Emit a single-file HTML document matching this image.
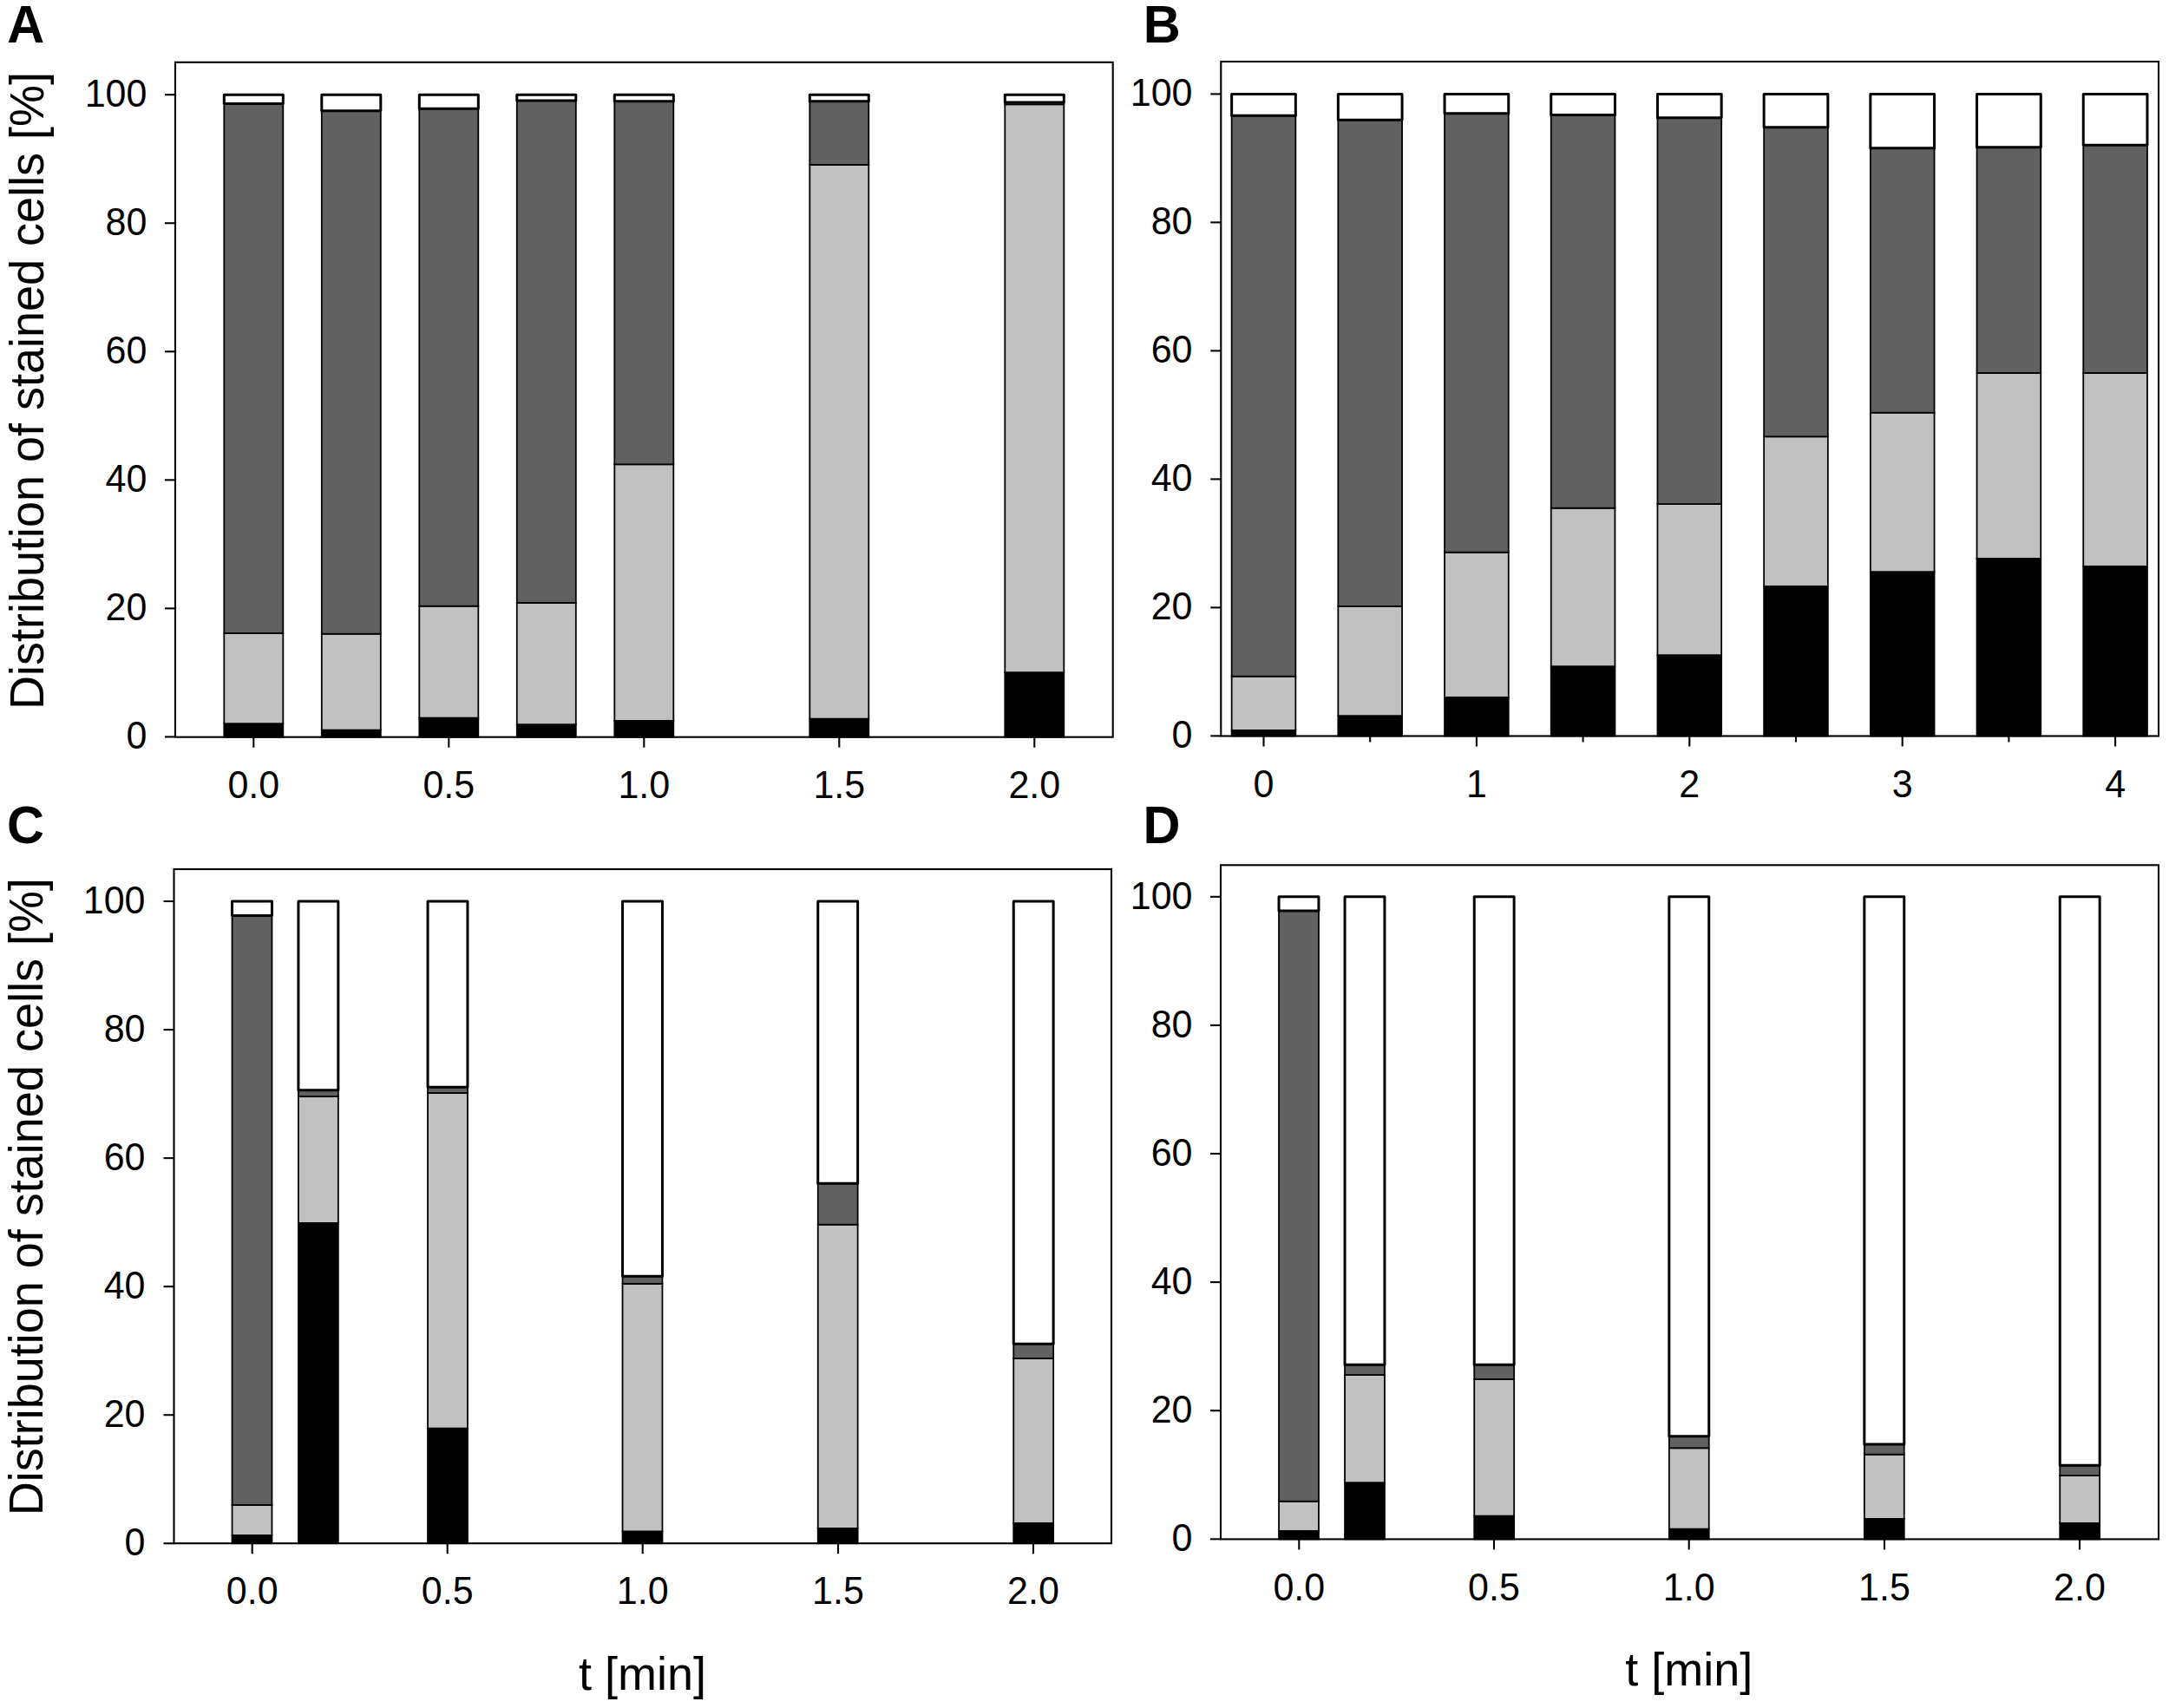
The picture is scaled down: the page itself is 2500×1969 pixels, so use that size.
<!DOCTYPE html>
<html><head><meta charset="utf-8"><title>Figure</title>
<style>
html,body{margin:0;padding:0;background:#fff;}
svg{display:block}
text{font-family:"Liberation Sans",Arial,sans-serif;fill:#000}
.tk{font-size:43px}
.al{font-size:54px}
.pl{font-size:59.5px;font-weight:bold}
</style></head><body>
<svg width="2500" height="1969" viewBox="0 0 2500 1969">
<rect width="2500" height="1969" fill="#fff"/>
<rect x="258.30" y="834.20" width="68.00" height="15.50" fill="#000" stroke="#000" stroke-width="1.8"/>
<rect x="258.30" y="730.00" width="68.00" height="104.20" fill="#c1c1c1" stroke="#000" stroke-width="1.8"/>
<rect x="258.30" y="119.40" width="68.00" height="610.60" fill="#616161" stroke="#000" stroke-width="1.8"/>
<rect x="258.30" y="109.30" width="68.00" height="10.10" fill="#fff" stroke="#000" stroke-width="3.0" stroke-linejoin="round"/>
<rect x="370.80" y="841.60" width="68.00" height="8.10" fill="#000" stroke="#000" stroke-width="1.8"/>
<rect x="370.80" y="730.70" width="68.00" height="110.90" fill="#c1c1c1" stroke="#000" stroke-width="1.8"/>
<rect x="370.80" y="127.70" width="68.00" height="603.00" fill="#616161" stroke="#000" stroke-width="1.8"/>
<rect x="370.80" y="109.30" width="68.00" height="18.40" fill="#fff" stroke="#000" stroke-width="3.0" stroke-linejoin="round"/>
<rect x="483.30" y="827.60" width="68.00" height="22.10" fill="#000" stroke="#000" stroke-width="1.8"/>
<rect x="483.30" y="698.70" width="68.00" height="128.90" fill="#c1c1c1" stroke="#000" stroke-width="1.8"/>
<rect x="483.30" y="125.30" width="68.00" height="573.40" fill="#616161" stroke="#000" stroke-width="1.8"/>
<rect x="483.30" y="109.30" width="68.00" height="16.00" fill="#fff" stroke="#000" stroke-width="3.0" stroke-linejoin="round"/>
<rect x="595.80" y="835.20" width="68.00" height="14.50" fill="#000" stroke="#000" stroke-width="1.8"/>
<rect x="595.80" y="695.00" width="68.00" height="140.20" fill="#c1c1c1" stroke="#000" stroke-width="1.8"/>
<rect x="595.80" y="116.00" width="68.00" height="579.00" fill="#616161" stroke="#000" stroke-width="1.8"/>
<rect x="595.80" y="109.30" width="68.00" height="6.70" fill="#fff" stroke="#000" stroke-width="3.0" stroke-linejoin="round"/>
<rect x="708.30" y="830.90" width="68.00" height="18.80" fill="#000" stroke="#000" stroke-width="1.8"/>
<rect x="708.30" y="535.30" width="68.00" height="295.60" fill="#c1c1c1" stroke="#000" stroke-width="1.8"/>
<rect x="708.30" y="116.70" width="68.00" height="418.60" fill="#616161" stroke="#000" stroke-width="1.8"/>
<rect x="708.30" y="109.30" width="68.00" height="7.40" fill="#fff" stroke="#000" stroke-width="3.0" stroke-linejoin="round"/>
<rect x="933.30" y="828.60" width="68.00" height="21.10" fill="#000" stroke="#000" stroke-width="1.8"/>
<rect x="933.30" y="190.00" width="68.00" height="638.60" fill="#c1c1c1" stroke="#000" stroke-width="1.8"/>
<rect x="933.30" y="116.70" width="68.00" height="73.30" fill="#616161" stroke="#000" stroke-width="1.8"/>
<rect x="933.30" y="109.30" width="68.00" height="7.40" fill="#fff" stroke="#000" stroke-width="3.0" stroke-linejoin="round"/>
<rect x="1158.30" y="775.20" width="68.00" height="74.50" fill="#000" stroke="#000" stroke-width="1.8"/>
<rect x="1158.30" y="120.30" width="68.00" height="654.90" fill="#c1c1c1" stroke="#000" stroke-width="1.8"/>
<rect x="1158.30" y="118.00" width="68.00" height="2.30" fill="#616161" stroke="#000" stroke-width="1.8"/>
<rect x="1158.30" y="109.30" width="68.00" height="8.70" fill="#fff" stroke="#000" stroke-width="3.0" stroke-linejoin="round"/>
<rect x="202" y="71.8" width="1080.7" height="777.9000000000001" fill="none" stroke="#000" stroke-width="2.1"/>
<line x1="190" y1="109.2" x2="202" y2="109.2" stroke="#000" stroke-width="2.1"/>
<text transform="translate(169.4,123.0) scale(1,1.04)" text-anchor="end" class="tk">100</text>
<line x1="190" y1="257.25" x2="202" y2="257.25" stroke="#000" stroke-width="2.1"/>
<text transform="translate(169.4,271.1) scale(1,1.04)" text-anchor="end" class="tk">80</text>
<line x1="190" y1="405.3" x2="202" y2="405.3" stroke="#000" stroke-width="2.1"/>
<text transform="translate(169.4,419.1) scale(1,1.04)" text-anchor="end" class="tk">60</text>
<line x1="190" y1="553.35" x2="202" y2="553.35" stroke="#000" stroke-width="2.1"/>
<text transform="translate(169.4,567.1) scale(1,1.04)" text-anchor="end" class="tk">40</text>
<line x1="190" y1="701.4000000000001" x2="202" y2="701.4000000000001" stroke="#000" stroke-width="2.1"/>
<text transform="translate(169.4,715.2) scale(1,1.04)" text-anchor="end" class="tk">20</text>
<line x1="190" y1="849.45" x2="202" y2="849.45" stroke="#000" stroke-width="2.1"/>
<text transform="translate(169.4,863.2) scale(1,1.04)" text-anchor="end" class="tk">0</text>
<line x1="292.3" y1="849.7" x2="292.3" y2="861.7" stroke="#000" stroke-width="2.1"/>
<line x1="517.3" y1="849.7" x2="517.3" y2="861.7" stroke="#000" stroke-width="2.1"/>
<line x1="742.3" y1="849.7" x2="742.3" y2="861.7" stroke="#000" stroke-width="2.1"/>
<line x1="967.3" y1="849.7" x2="967.3" y2="861.7" stroke="#000" stroke-width="2.1"/>
<line x1="1192.3" y1="849.7" x2="1192.3" y2="861.7" stroke="#000" stroke-width="2.1"/>
<text transform="translate(292.3,920) scale(1,1.04)" text-anchor="middle" class="tk">0.0</text>
<text transform="translate(517.3,920) scale(1,1.04)" text-anchor="middle" class="tk">0.5</text>
<text transform="translate(742.3,920) scale(1,1.04)" text-anchor="middle" class="tk">1.0</text>
<text transform="translate(967.3,920) scale(1,1.04)" text-anchor="middle" class="tk">1.5</text>
<text transform="translate(1192.3,920) scale(1,1.04)" text-anchor="middle" class="tk">2.0</text>
<rect x="1419.65" y="841.90" width="73.70" height="6.60" fill="#000" stroke="#000" stroke-width="1.8"/>
<rect x="1419.65" y="779.70" width="73.70" height="62.20" fill="#c1c1c1" stroke="#000" stroke-width="1.8"/>
<rect x="1419.65" y="133.30" width="73.70" height="646.40" fill="#616161" stroke="#000" stroke-width="1.8"/>
<rect x="1419.65" y="108.40" width="73.70" height="24.90" fill="#fff" stroke="#000" stroke-width="3.0" stroke-linejoin="round"/>
<rect x="1542.35" y="825.20" width="73.70" height="23.30" fill="#000" stroke="#000" stroke-width="1.8"/>
<rect x="1542.35" y="699.00" width="73.70" height="126.20" fill="#c1c1c1" stroke="#000" stroke-width="1.8"/>
<rect x="1542.35" y="138.30" width="73.70" height="560.70" fill="#616161" stroke="#000" stroke-width="1.8"/>
<rect x="1542.35" y="108.40" width="73.70" height="29.90" fill="#fff" stroke="#000" stroke-width="3.0" stroke-linejoin="round"/>
<rect x="1665.05" y="803.90" width="73.70" height="44.60" fill="#000" stroke="#000" stroke-width="1.8"/>
<rect x="1665.05" y="636.70" width="73.70" height="167.20" fill="#c1c1c1" stroke="#000" stroke-width="1.8"/>
<rect x="1665.05" y="130.70" width="73.70" height="506.00" fill="#616161" stroke="#000" stroke-width="1.8"/>
<rect x="1665.05" y="108.40" width="73.70" height="22.30" fill="#fff" stroke="#000" stroke-width="3.0" stroke-linejoin="round"/>
<rect x="1787.75" y="768.20" width="73.70" height="80.30" fill="#000" stroke="#000" stroke-width="1.8"/>
<rect x="1787.75" y="585.70" width="73.70" height="182.50" fill="#c1c1c1" stroke="#000" stroke-width="1.8"/>
<rect x="1787.75" y="132.50" width="73.70" height="453.20" fill="#616161" stroke="#000" stroke-width="1.8"/>
<rect x="1787.75" y="108.40" width="73.70" height="24.10" fill="#fff" stroke="#000" stroke-width="3.0" stroke-linejoin="round"/>
<rect x="1910.45" y="755.20" width="73.70" height="93.30" fill="#000" stroke="#000" stroke-width="1.8"/>
<rect x="1910.45" y="581.00" width="73.70" height="174.20" fill="#c1c1c1" stroke="#000" stroke-width="1.8"/>
<rect x="1910.45" y="135.70" width="73.70" height="445.30" fill="#616161" stroke="#000" stroke-width="1.8"/>
<rect x="1910.45" y="108.40" width="73.70" height="27.30" fill="#fff" stroke="#000" stroke-width="3.0" stroke-linejoin="round"/>
<rect x="2033.15" y="675.90" width="73.70" height="172.60" fill="#000" stroke="#000" stroke-width="1.8"/>
<rect x="2033.15" y="503.30" width="73.70" height="172.60" fill="#c1c1c1" stroke="#000" stroke-width="1.8"/>
<rect x="2033.15" y="146.70" width="73.70" height="356.60" fill="#616161" stroke="#000" stroke-width="1.8"/>
<rect x="2033.15" y="108.40" width="73.70" height="38.30" fill="#fff" stroke="#000" stroke-width="3.0" stroke-linejoin="round"/>
<rect x="2155.85" y="659.20" width="73.70" height="189.30" fill="#000" stroke="#000" stroke-width="1.8"/>
<rect x="2155.85" y="475.70" width="73.70" height="183.50" fill="#c1c1c1" stroke="#000" stroke-width="1.8"/>
<rect x="2155.85" y="170.70" width="73.70" height="305.00" fill="#616161" stroke="#000" stroke-width="1.8"/>
<rect x="2155.85" y="108.40" width="73.70" height="62.30" fill="#fff" stroke="#000" stroke-width="3.0" stroke-linejoin="round"/>
<rect x="2278.55" y="643.90" width="73.70" height="204.60" fill="#000" stroke="#000" stroke-width="1.8"/>
<rect x="2278.55" y="430.00" width="73.70" height="213.90" fill="#c1c1c1" stroke="#000" stroke-width="1.8"/>
<rect x="2278.55" y="169.70" width="73.70" height="260.30" fill="#616161" stroke="#000" stroke-width="1.8"/>
<rect x="2278.55" y="108.40" width="73.70" height="61.30" fill="#fff" stroke="#000" stroke-width="3.0" stroke-linejoin="round"/>
<rect x="2401.25" y="652.90" width="73.70" height="195.60" fill="#000" stroke="#000" stroke-width="1.8"/>
<rect x="2401.25" y="430.00" width="73.70" height="222.90" fill="#c1c1c1" stroke="#000" stroke-width="1.8"/>
<rect x="2401.25" y="167.30" width="73.70" height="262.70" fill="#616161" stroke="#000" stroke-width="1.8"/>
<rect x="2401.25" y="108.40" width="73.70" height="58.90" fill="#fff" stroke="#000" stroke-width="3.0" stroke-linejoin="round"/>
<rect x="1407.3" y="71" width="1080.7" height="777.5" fill="none" stroke="#000" stroke-width="2.1"/>
<line x1="1395.3" y1="108.4" x2="1407.3" y2="108.4" stroke="#000" stroke-width="2.1"/>
<text transform="translate(1374.5,122.2) scale(1,1.04)" text-anchor="end" class="tk">100</text>
<line x1="1395.3" y1="256.4" x2="1407.3" y2="256.4" stroke="#000" stroke-width="2.1"/>
<text transform="translate(1374.5,270.2) scale(1,1.04)" text-anchor="end" class="tk">80</text>
<line x1="1395.3" y1="404.4" x2="1407.3" y2="404.4" stroke="#000" stroke-width="2.1"/>
<text transform="translate(1374.5,418.2) scale(1,1.04)" text-anchor="end" class="tk">60</text>
<line x1="1395.3" y1="552.4" x2="1407.3" y2="552.4" stroke="#000" stroke-width="2.1"/>
<text transform="translate(1374.5,566.2) scale(1,1.04)" text-anchor="end" class="tk">40</text>
<line x1="1395.3" y1="700.4" x2="1407.3" y2="700.4" stroke="#000" stroke-width="2.1"/>
<text transform="translate(1374.5,714.2) scale(1,1.04)" text-anchor="end" class="tk">20</text>
<line x1="1395.3" y1="848.4" x2="1407.3" y2="848.4" stroke="#000" stroke-width="2.1"/>
<text transform="translate(1374.5,862.2) scale(1,1.04)" text-anchor="end" class="tk">0</text>
<line x1="1456.5" y1="848.5" x2="1456.5" y2="860.5" stroke="#000" stroke-width="2.1"/>
<line x1="1701.9" y1="848.5" x2="1701.9" y2="860.5" stroke="#000" stroke-width="2.1"/>
<line x1="1947.3" y1="848.5" x2="1947.3" y2="860.5" stroke="#000" stroke-width="2.1"/>
<line x1="2192.7" y1="848.5" x2="2192.7" y2="860.5" stroke="#000" stroke-width="2.1"/>
<line x1="2438.1" y1="848.5" x2="2438.1" y2="860.5" stroke="#000" stroke-width="2.1"/>
<line x1="1579.2" y1="848.5" x2="1579.2" y2="855.5" stroke="#000" stroke-width="2.1"/>
<line x1="1824.6" y1="848.5" x2="1824.6" y2="855.5" stroke="#000" stroke-width="2.1"/>
<line x1="2070.0" y1="848.5" x2="2070.0" y2="855.5" stroke="#000" stroke-width="2.1"/>
<line x1="2315.4" y1="848.5" x2="2315.4" y2="855.5" stroke="#000" stroke-width="2.1"/>
<text transform="translate(1456.5,919) scale(1,1.04)" text-anchor="middle" class="tk">0</text>
<text transform="translate(1701.9,919) scale(1,1.04)" text-anchor="middle" class="tk">1</text>
<text transform="translate(1947.3,919) scale(1,1.04)" text-anchor="middle" class="tk">2</text>
<text transform="translate(2192.7,919) scale(1,1.04)" text-anchor="middle" class="tk">3</text>
<text transform="translate(2438.1,919) scale(1,1.04)" text-anchor="middle" class="tk">4</text>
<rect x="267.55" y="1769.90" width="45.90" height="9.30" fill="#000" stroke="#000" stroke-width="1.8"/>
<rect x="267.55" y="1735.00" width="45.90" height="34.90" fill="#c1c1c1" stroke="#000" stroke-width="1.8"/>
<rect x="267.55" y="1055.50" width="45.90" height="679.50" fill="#616161" stroke="#000" stroke-width="1.8"/>
<rect x="267.55" y="1039.00" width="45.90" height="16.50" fill="#fff" stroke="#000" stroke-width="3.0" stroke-linejoin="round"/>
<rect x="343.95" y="1409.90" width="45.90" height="369.30" fill="#000" stroke="#000" stroke-width="1.8"/>
<rect x="343.95" y="1264.00" width="45.90" height="145.90" fill="#c1c1c1" stroke="#000" stroke-width="1.8"/>
<rect x="343.95" y="1256.70" width="45.90" height="7.30" fill="#616161" stroke="#000" stroke-width="1.8"/>
<rect x="343.95" y="1039.00" width="45.90" height="217.70" fill="#fff" stroke="#000" stroke-width="3.0" stroke-linejoin="round"/>
<rect x="493.05" y="1646.60" width="45.90" height="132.60" fill="#000" stroke="#000" stroke-width="1.8"/>
<rect x="493.05" y="1260.00" width="45.90" height="386.60" fill="#c1c1c1" stroke="#000" stroke-width="1.8"/>
<rect x="493.05" y="1253.30" width="45.90" height="6.70" fill="#616161" stroke="#000" stroke-width="1.8"/>
<rect x="493.05" y="1039.00" width="45.90" height="214.30" fill="#fff" stroke="#000" stroke-width="3.0" stroke-linejoin="round"/>
<rect x="717.55" y="1765.40" width="45.90" height="13.80" fill="#000" stroke="#000" stroke-width="1.8"/>
<rect x="717.55" y="1480.00" width="45.90" height="285.40" fill="#c1c1c1" stroke="#000" stroke-width="1.8"/>
<rect x="717.55" y="1471.30" width="45.90" height="8.70" fill="#616161" stroke="#000" stroke-width="1.8"/>
<rect x="717.55" y="1039.00" width="45.90" height="432.30" fill="#fff" stroke="#000" stroke-width="3.0" stroke-linejoin="round"/>
<rect x="942.75" y="1761.90" width="45.90" height="17.30" fill="#000" stroke="#000" stroke-width="1.8"/>
<rect x="942.75" y="1411.70" width="45.90" height="350.20" fill="#c1c1c1" stroke="#000" stroke-width="1.8"/>
<rect x="942.75" y="1364.30" width="45.90" height="47.40" fill="#616161" stroke="#000" stroke-width="1.8"/>
<rect x="942.75" y="1039.00" width="45.90" height="325.30" fill="#fff" stroke="#000" stroke-width="3.0" stroke-linejoin="round"/>
<rect x="1168.25" y="1755.90" width="45.90" height="23.30" fill="#000" stroke="#000" stroke-width="1.8"/>
<rect x="1168.25" y="1566.00" width="45.90" height="189.90" fill="#c1c1c1" stroke="#000" stroke-width="1.8"/>
<rect x="1168.25" y="1549.30" width="45.90" height="16.70" fill="#616161" stroke="#000" stroke-width="1.8"/>
<rect x="1168.25" y="1039.00" width="45.90" height="510.30" fill="#fff" stroke="#000" stroke-width="3.0" stroke-linejoin="round"/>
<rect x="200.5" y="1002" width="1080.5" height="777.2" fill="none" stroke="#000" stroke-width="2.1"/>
<line x1="188.5" y1="1039.0" x2="200.5" y2="1039.0" stroke="#000" stroke-width="2.1"/>
<text transform="translate(167.5,1052.8) scale(1,1.04)" text-anchor="end" class="tk">100</text>
<line x1="188.5" y1="1187.05" x2="200.5" y2="1187.05" stroke="#000" stroke-width="2.1"/>
<text transform="translate(167.5,1200.8) scale(1,1.04)" text-anchor="end" class="tk">80</text>
<line x1="188.5" y1="1335.1" x2="200.5" y2="1335.1" stroke="#000" stroke-width="2.1"/>
<text transform="translate(167.5,1348.9) scale(1,1.04)" text-anchor="end" class="tk">60</text>
<line x1="188.5" y1="1483.15" x2="200.5" y2="1483.15" stroke="#000" stroke-width="2.1"/>
<text transform="translate(167.5,1497.0) scale(1,1.04)" text-anchor="end" class="tk">40</text>
<line x1="188.5" y1="1631.2" x2="200.5" y2="1631.2" stroke="#000" stroke-width="2.1"/>
<text transform="translate(167.5,1645.0) scale(1,1.04)" text-anchor="end" class="tk">20</text>
<line x1="188.5" y1="1779.25" x2="200.5" y2="1779.25" stroke="#000" stroke-width="2.1"/>
<text transform="translate(167.5,1793.0) scale(1,1.04)" text-anchor="end" class="tk">0</text>
<line x1="290.7" y1="1779.2" x2="290.7" y2="1791.2" stroke="#000" stroke-width="2.1"/>
<line x1="515.7" y1="1779.2" x2="515.7" y2="1791.2" stroke="#000" stroke-width="2.1"/>
<line x1="740.7" y1="1779.2" x2="740.7" y2="1791.2" stroke="#000" stroke-width="2.1"/>
<line x1="966" y1="1779.2" x2="966" y2="1791.2" stroke="#000" stroke-width="2.1"/>
<line x1="1191" y1="1779.2" x2="1191" y2="1791.2" stroke="#000" stroke-width="2.1"/>
<text transform="translate(290.7,1849.3) scale(1,1.04)" text-anchor="middle" class="tk">0.0</text>
<text transform="translate(515.7,1849.3) scale(1,1.04)" text-anchor="middle" class="tk">0.5</text>
<text transform="translate(740.7,1849.3) scale(1,1.04)" text-anchor="middle" class="tk">1.0</text>
<text transform="translate(966,1849.3) scale(1,1.04)" text-anchor="middle" class="tk">1.5</text>
<text transform="translate(1191,1849.3) scale(1,1.04)" text-anchor="middle" class="tk">2.0</text>
<rect x="1474.05" y="1764.90" width="45.90" height="9.50" fill="#000" stroke="#000" stroke-width="1.8"/>
<rect x="1474.05" y="1730.70" width="45.90" height="34.20" fill="#c1c1c1" stroke="#000" stroke-width="1.8"/>
<rect x="1474.05" y="1050.00" width="45.90" height="680.70" fill="#616161" stroke="#000" stroke-width="1.8"/>
<rect x="1474.05" y="1033.80" width="45.90" height="16.20" fill="#fff" stroke="#000" stroke-width="3.0" stroke-linejoin="round"/>
<rect x="1550.05" y="1709.20" width="45.90" height="65.20" fill="#000" stroke="#000" stroke-width="1.8"/>
<rect x="1550.05" y="1585.00" width="45.90" height="124.20" fill="#c1c1c1" stroke="#000" stroke-width="1.8"/>
<rect x="1550.05" y="1573.30" width="45.90" height="11.70" fill="#616161" stroke="#000" stroke-width="1.8"/>
<rect x="1550.05" y="1033.80" width="45.90" height="539.50" fill="#fff" stroke="#000" stroke-width="3.0" stroke-linejoin="round"/>
<rect x="1699.25" y="1747.60" width="45.90" height="26.80" fill="#000" stroke="#000" stroke-width="1.8"/>
<rect x="1699.25" y="1590.00" width="45.90" height="157.60" fill="#c1c1c1" stroke="#000" stroke-width="1.8"/>
<rect x="1699.25" y="1573.30" width="45.90" height="16.70" fill="#616161" stroke="#000" stroke-width="1.8"/>
<rect x="1699.25" y="1033.80" width="45.90" height="539.50" fill="#fff" stroke="#000" stroke-width="3.0" stroke-linejoin="round"/>
<rect x="1923.85" y="1762.60" width="45.90" height="11.80" fill="#000" stroke="#000" stroke-width="1.8"/>
<rect x="1923.85" y="1669.30" width="45.90" height="93.30" fill="#c1c1c1" stroke="#000" stroke-width="1.8"/>
<rect x="1923.85" y="1655.70" width="45.90" height="13.60" fill="#616161" stroke="#000" stroke-width="1.8"/>
<rect x="1923.85" y="1033.80" width="45.90" height="621.90" fill="#fff" stroke="#000" stroke-width="3.0" stroke-linejoin="round"/>
<rect x="2148.85" y="1750.90" width="45.90" height="23.50" fill="#000" stroke="#000" stroke-width="1.8"/>
<rect x="2148.85" y="1676.70" width="45.90" height="74.20" fill="#c1c1c1" stroke="#000" stroke-width="1.8"/>
<rect x="2148.85" y="1665.00" width="45.90" height="11.70" fill="#616161" stroke="#000" stroke-width="1.8"/>
<rect x="2148.85" y="1033.80" width="45.90" height="631.20" fill="#fff" stroke="#000" stroke-width="3.0" stroke-linejoin="round"/>
<rect x="2374.25" y="1755.90" width="45.90" height="18.50" fill="#000" stroke="#000" stroke-width="1.8"/>
<rect x="2374.25" y="1701.00" width="45.90" height="54.90" fill="#c1c1c1" stroke="#000" stroke-width="1.8"/>
<rect x="2374.25" y="1689.30" width="45.90" height="11.70" fill="#616161" stroke="#000" stroke-width="1.8"/>
<rect x="2374.25" y="1033.80" width="45.90" height="655.50" fill="#fff" stroke="#000" stroke-width="3.0" stroke-linejoin="round"/>
<rect x="1407" y="997.3" width="1081" height="777.1000000000001" fill="none" stroke="#000" stroke-width="2.1"/>
<line x1="1395" y1="1033.8" x2="1407" y2="1033.8" stroke="#000" stroke-width="2.1"/>
<text transform="translate(1374.5,1047.6) scale(1,1.04)" text-anchor="end" class="tk">100</text>
<line x1="1395" y1="1181.8999999999999" x2="1407" y2="1181.8999999999999" stroke="#000" stroke-width="2.1"/>
<text transform="translate(1374.5,1195.7) scale(1,1.04)" text-anchor="end" class="tk">80</text>
<line x1="1395" y1="1330.0" x2="1407" y2="1330.0" stroke="#000" stroke-width="2.1"/>
<text transform="translate(1374.5,1343.8) scale(1,1.04)" text-anchor="end" class="tk">60</text>
<line x1="1395" y1="1478.1" x2="1407" y2="1478.1" stroke="#000" stroke-width="2.1"/>
<text transform="translate(1374.5,1491.9) scale(1,1.04)" text-anchor="end" class="tk">40</text>
<line x1="1395" y1="1626.1999999999998" x2="1407" y2="1626.1999999999998" stroke="#000" stroke-width="2.1"/>
<text transform="translate(1374.5,1640.0) scale(1,1.04)" text-anchor="end" class="tk">20</text>
<line x1="1395" y1="1774.3" x2="1407" y2="1774.3" stroke="#000" stroke-width="2.1"/>
<text transform="translate(1374.5,1788.1) scale(1,1.04)" text-anchor="end" class="tk">0</text>
<line x1="1497.3" y1="1774.4" x2="1497.3" y2="1786.4" stroke="#000" stroke-width="2.1"/>
<line x1="1722" y1="1774.4" x2="1722" y2="1786.4" stroke="#000" stroke-width="2.1"/>
<line x1="1946.7" y1="1774.4" x2="1946.7" y2="1786.4" stroke="#000" stroke-width="2.1"/>
<line x1="2172" y1="1774.4" x2="2172" y2="1786.4" stroke="#000" stroke-width="2.1"/>
<line x1="2397" y1="1774.4" x2="2397" y2="1786.4" stroke="#000" stroke-width="2.1"/>
<text transform="translate(1497.3,1844.5) scale(1,1.04)" text-anchor="middle" class="tk">0.0</text>
<text transform="translate(1722,1844.5) scale(1,1.04)" text-anchor="middle" class="tk">0.5</text>
<text transform="translate(1946.7,1844.5) scale(1,1.04)" text-anchor="middle" class="tk">1.0</text>
<text transform="translate(2172,1844.5) scale(1,1.04)" text-anchor="middle" class="tk">1.5</text>
<text transform="translate(2397,1844.5) scale(1,1.04)" text-anchor="middle" class="tk">2.0</text>
<text transform="translate(8.3,49.0) scale(1,1.03)" class="pl">A</text>
<text transform="translate(1317.8,49.0) scale(1,1.03)" class="pl">B</text>
<text transform="translate(7.9,972.4) scale(1,1.03)" class="pl">C</text>
<text transform="translate(1317.5,972.0) scale(1,1.03)" class="pl">D</text>
<text transform="translate(49.8,818) rotate(-90) scale(1,1.03)" class="al">Distribution of stained cells [%]</text>
<text transform="translate(48.5,1747.2) rotate(-90) scale(1,1.03)" class="al">Distribution of stained cells [%]</text>
<text transform="translate(667.0,1947.6) scale(1,1.0)" class="al">t [min]</text>
<text transform="translate(1873.3,1942.6) scale(1,1.0)" class="al">t [min]</text>
</svg>
</body></html>
